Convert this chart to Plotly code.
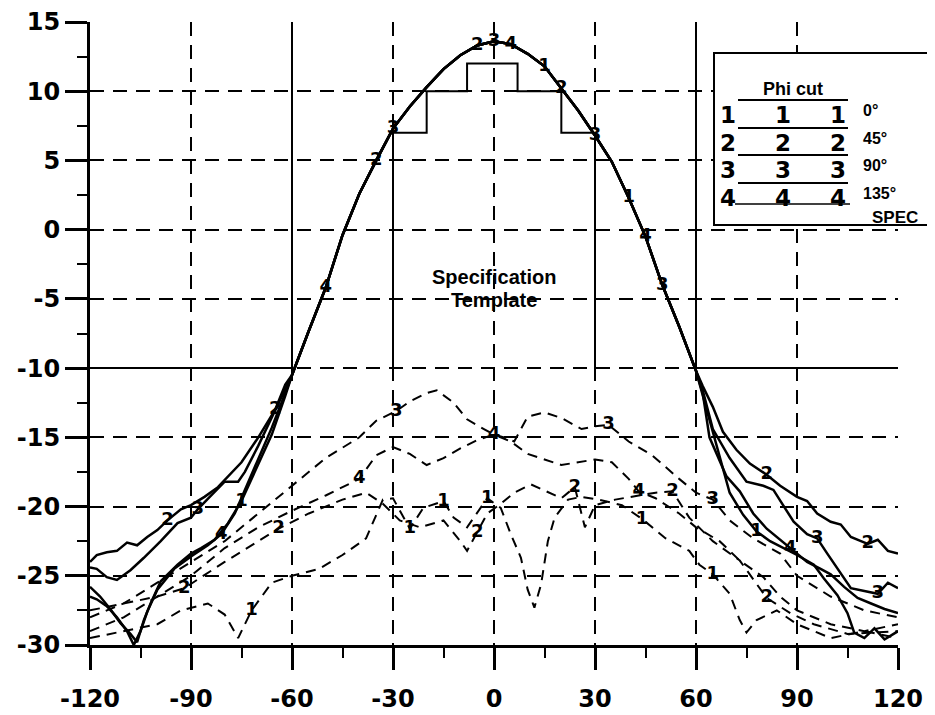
import plotly.graph_objects as go

# ---------------- data ----------------
# common main lobe of the four co-polar cuts (deg, dB)
MAIN_ANG = [-60, -55, -50, -45, -40, -35, -30, -25, -20, -15, -10, -5, 0,
            5, 10, 15, 20, 25, 30, 35, 40, 45, 50, 55, 60]
MAIN_DB = [-10.5, -7.3, -4.2, -0.4, 2.6, 5.0, 7.3, 8.9, 10.3, 11.6, 12.6, 13.3, 13.6,
           13.4, 12.7, 11.8, 10.2, 8.6, 6.8, 4.9, 2.3, -0.5, -4.0, -7.0, -10.2]

# co-polar tails, phi = 0 deg (curve 1)
C1_L_ANG = [-120, -117, -114, -111, -108, -106, -104, -102, -99, -94, -90, -87, -83, -79, -75, -70, -66, -62]
C1_L_DB = [-25.8, -26.5, -27.4, -28.4, -29.2, -29.8, -28.2, -27.0, -25.4, -24.2, -23.4, -23.0, -22.4, -21.2, -19.6, -17.0, -14.8, -12.0]
C1_R_ANG = [62, 66, 70, 74, 78, 82, 86, 90, 95, 98, 102, 105, 107, 110, 113, 116, 120]
C1_R_DB = [-12.0, -15.5, -19.0, -20.6, -21.8, -22.5, -23.0, -23.5, -24.2, -25.2, -26.4, -27.7, -29.1, -29.5, -28.8, -29.6, -29.0]

# phi = 45 deg (curve 2)
C2_L_ANG = [-120, -118, -115, -112, -109, -106, -103, -100, -97, -93, -90, -86, -82, -78, -75, -70, -65, -62]
C2_L_DB = [-24.0, -23.5, -23.3, -23.2, -22.6, -22.8, -22.2, -21.7, -21.0, -20.2, -19.9, -19.3, -18.6, -17.6, -16.8, -15.0, -13.0, -11.2]
C2_R_ANG = [62, 65, 68, 72, 76, 81, 85, 90, 93, 96, 100, 103, 106, 109, 111, 114, 117, 120]
C2_R_DB = [-11.3, -12.8, -14.6, -15.9, -16.9, -17.7, -18.5, -19.3, -19.6, -20.5, -21.1, -21.3, -22.2, -22.5, -22.7, -22.4, -23.2, -23.4]

# phi = 90 deg (curve 3)
C3_L_ANG = [-120, -118, -115, -112, -108, -104, -99, -94, -90, -88, -84, -80, -76, -74, -70, -66, -62]
C3_L_DB = [-24.4, -24.5, -25.1, -25.3, -24.6, -23.7, -22.5, -21.2, -20.8, -20.2, -19.2, -18.2, -18.2, -17.5, -15.6, -13.6, -11.5]
C3_R_ANG = [62, 65, 70, 75, 80, 83, 86, 89, 93, 96, 99, 103, 106, 110, 114, 117, 120]
C3_R_DB = [-11.6, -14.4, -16.5, -18.2, -18.5, -18.8, -20.0, -21.1, -22.0, -22.3, -23.4, -24.8, -25.9, -26.1, -26.3, -25.5, -25.9]

# phi = 135 deg (curve 4)
C4_L_ANG = [-120, -118, -115, -112, -109, -107, -105, -103, -100, -95, -90, -85, -81, -77, -74, -70, -66, -62]
C4_L_DB = [-26.5, -26.7, -27.2, -28.0, -29.0, -30.0, -29.0, -27.6, -26.0, -24.5, -23.6, -22.8, -22.0, -20.5, -18.8, -16.6, -14.3, -11.8]
C4_R_ANG = [62, 64, 69, 73, 77, 81, 85, 88, 93, 97, 100, 104, 108, 112, 116, 120]
C4_R_DB = [-11.8, -15.0, -17.8, -18.9, -20.5, -21.6, -22.4, -23.0, -24.0, -24.5, -24.9, -25.8, -26.6, -27.0, -27.4, -27.7]

# cross-polar cuts (dashed)
X1_ANG = [-120, -110, -100, -93, -85, -80, -76, -72, -66, -60, -52, -45, -38, -33, -30, -25, -21, -15, -12,
          -8, -2, 2, 5, 8, 10, 12, 14, 16, 18, 22, 26, 31, 38, 44, 51, 58, 61, 65, 70, 73, 75, 78, 84, 90, 100, 110, 120]
X1_DB = [-29.5, -29.0, -28.5, -27.5, -27.0, -27.8, -29.5, -27.5, -25.5, -25.0, -24.5, -23.5, -22.3, -19.5, -19.4, -21.6, -20.1, -19.6, -20.8,
         -21.5, -19.4, -20.1, -22.0, -23.7, -26.0, -27.3, -25.6, -22.5, -20.8, -19.5, -19.3, -19.5, -19.9, -20.9, -22.3, -23.2, -24.2, -24.9, -26.3, -28.2, -29.1, -28.2, -27.5, -28.5, -29.5, -29.0, -29.5]
X2_ANG = [-120, -110, -100, -92, -80, -70, -64, -55, -45, -38, -33, -28, -22, -15, -10, -8, -5, -2, 2, 6, 11, 17, 20, 24,
          27, 30, 36, 43, 48, 53, 58, 65, 73, 81, 88, 95, 105, 120]
X2_DB = [-27.5, -27.0, -26.5, -25.9, -24.0, -22.5, -21.6, -20.5, -19.5, -19.0, -19.8, -21.0, -21.5, -21.0, -22.5, -23.2, -21.9, -20.5, -19.8, -19.0, -18.4, -19.1, -19.4, -18.6,
         -21.5, -19.9, -19.5, -19.2, -19.0, -18.9, -20.8, -22.5, -23.9, -26.6, -27.7, -28.5, -29.2, -29.0]
X3_ANG = [-120, -110, -100, -90, -80, -70, -60, -50, -40, -35, -29, -25, -20, -17, -12, -8, -3, 0, 3, 6, 10, 15, 20, 26, 30,
          34, 40, 47, 55, 60, 65, 70, 77, 85, 90, 100, 110, 120]
X3_DB = [-28.0, -27.0, -25.5, -24.0, -22.5, -20.5, -18.5, -16.5, -15.0, -13.8, -13.1, -12.4, -11.8, -11.6, -12.5, -13.7, -14.4, -14.8, -15.0, -15.3, -13.5, -13.2, -13.6, -14.4, -14.2,
         -14.1, -15.3, -16.3, -18.0, -19.0, -19.5, -21.0, -22.3, -23.4, -25.0, -26.5, -27.5, -28.0]
X4_ANG = [-120, -110, -100, -90, -80, -70, -60, -50, -40, -35, -30, -25, -20, -15, -10, -5, 0, 5, 10, 20, 30, 35,
          40, 43, 48, 55, 60, 67, 73, 80, 85, 90, 100, 110, 120]
X4_DB = [-29.0, -28.0, -26.5, -25.0, -23.0, -21.5, -20.3, -19.2, -18.0, -16.3, -15.7, -16.2, -17.0, -16.5, -15.8, -15.2, -14.8, -15.3, -16.2, -17.0, -16.6, -16.8,
         -18.0, -18.9, -19.4, -20.5, -21.5, -22.5, -23.9, -25.1, -26.5, -27.5, -28.5, -29.0, -28.5]

# angles at which the cut number is printed on each curve
C_MARKS = {
    "1": [15, 40, -75, 78],
    "2": [-5, 20, -35, -65, -97, 81, 111],
    "3": [0, -30, 30, 50, -88, 96, 114],
    "4": [5, -50, 45, -81, 88],
}
X_MARKS = {
    "1": [-72, -25, -15, -2, 44, 65],
    "2": [-92, -64, -5, 24, 53, 81],
    "3": [-29, 34, 65],
    "4": [0, -40, 43],
}

# specification template (upper mask)
SPEC_X = [-120, -60, -60, None, -30, -30, -20, -20, -8, -8, 7, 7, 20, 20, 30, 30, None, 60, 60, 120]
SPEC_Y = [-10, -10, 15, None, -10, 7, 7, 10, 10, 12, 12, 10, 10, 7, 7, -10, None, 15, -10, -10]

X_TICKS = [-120, -90, -60, -30, 0, 30, 60, 90, 120]
X_LABELS = ["-120", "-90", "-60", "-30", "0", "30", "60", "90", "120"]
Y_TICKS = [15, 10, 5, 0, -5, -10, -15, -20, -25, -30]
Y_LABELS = ["15", "10", "5", "0", "-5", "-10", "-15", "-20", "-25", "-30"]
LEGEND_ROWS = [("1", "0°"), ("2", "45°"), ("3", "90°"), ("4", "135°")]

# ---------------- figure ----------------
OFF = 8                      # default page body margin
W, H = 927, 707
ML, MT = 90 - OFF, 22 - OFF  # plot area at screen x 90..898, y 22..645
PW, PH = 808, 623
MR, MB = W - ML - PW, H - MT - PH


def px(xs):
    return (xs - OFF - ML) / PW


def py(ys):
    return (H - MB - (ys - OFF)) / PH


fig = go.Figure()

DIGIT_FONT = dict(family="DejaVu Sans", size=18, color="black", weight="bold")

co_sets = {
    "1": (C1_L_ANG, C1_L_DB, C1_R_ANG, C1_R_DB),
    "2": (C2_L_ANG, C2_L_DB, C2_R_ANG, C2_R_DB),
    "3": (C3_L_ANG, C3_L_DB, C3_R_ANG, C3_R_DB),
    "4": (C4_L_ANG, C4_L_DB, C4_R_ANG, C4_R_DB),
}
for name, (la, ld, ra, rd) in co_sets.items():
    ang = la + MAIN_ANG + ra
    db = ld + MAIN_DB + rd
    txt = [name if a in C_MARKS[name] else "" for a in ang]
    fig.add_trace(go.Scatter(x=ang, y=db, mode="lines+text", text=txt,
                             textposition="middle center", textfont=DIGIT_FONT,
                             line=dict(color="black", width=2.5), showlegend=False))

x_sets = {"1": (X1_ANG, X1_DB), "2": (X2_ANG, X2_DB), "3": (X3_ANG, X3_DB), "4": (X4_ANG, X4_DB)}
for name, (ang, db) in x_sets.items():
    txt = [name if a in X_MARKS[name] else "" for a in ang]
    fig.add_trace(go.Scatter(x=ang, y=db, mode="lines+text", text=txt,
                             textposition="middle center", textfont=DIGIT_FONT,
                             line=dict(color="black", width=2, dash="10px,7px"), showlegend=False))

fig.add_trace(go.Scatter(x=SPEC_X, y=SPEC_Y, mode="lines", connectgaps=False,
                         line=dict(color="black", width=2), showlegend=False))

fig.add_annotation(x=0, y=-3.4, text="Specification", showarrow=False,
                   font=dict(family="Liberation Sans", size=20, color="black", weight="bold"))
fig.add_annotation(x=0, y=-5.1, text="Template", showarrow=False,
                   font=dict(family="Liberation Sans", size=20, color="black", weight="bold"))

# legend box (drawn by hand to mimic numbered-line legend)
shapes = [dict(type="rect", xref="paper", yref="paper", x0=px(714), x1=px(932), y0=py(225), y1=py(53),
               line=dict(color="black", width=2), fillcolor="white", layer="above")]
anns = [dict(xref="paper", yref="paper", x=px(825), y=py(77), text="Phi cut", showarrow=False,
             font=dict(family="Liberation Sans", size=18, color="black", weight="bold"))]
row_y = [100, 128, 155, 183]
for (d, lbl), ry in zip(LEGEND_ROWS, row_y):
    shapes.append(dict(type="line", xref="paper", yref="paper", x0=px(738), x1=px(848), y0=py(ry), y1=py(ry),
                       line=dict(color="black", width=2), layer="above"))
    for xx in (738, 793, 848):
        anns.append(dict(xref="paper", yref="paper", x=px(xx), y=py(ry), text=d, showarrow=False,
                         font=dict(family="DejaVu Sans", size=23, color="black", weight="bold")))
    anns.append(dict(xref="paper", yref="paper", x=px(861), y=py(ry), text=lbl, showarrow=False, xanchor="left",
                     font=dict(family="Liberation Sans", size=16, color="black", weight="bold")))
shapes.append(dict(type="line", xref="paper", yref="paper", x0=px(735), x1=px(850), y0=py(204), y1=py(204),
                   line=dict(color="black", width=1.5), layer="above"))
anns.append(dict(xref="paper", yref="paper", x=px(870), y=py(206), text="SPEC", showarrow=False, xanchor="left",
                 font=dict(family="Liberation Sans", size=17, color="black", weight="bold")))

for a in anns:
    fig.add_annotation(**a)

GRID = dict(showgrid=True, gridcolor="black", gridwidth=2, griddash="14px,9px")
TICKFONT = dict(family="DejaVu Sans", size=24, color="black", weight="bold")

fig.update_layout(
    width=W, height=H, margin=dict(l=ML, r=MR, t=MT, b=MB, autoexpand=False),
    paper_bgcolor="white", plot_bgcolor="white", shapes=shapes, showlegend=False,
    xaxis=dict(range=[-120, 120], tickvals=X_TICKS, ticktext=X_LABELS, ticks="outside", ticklen=22, tickwidth=3,
               tickcolor="black", showline=True, linecolor="black", linewidth=3, zeroline=False,
               tickfont=TICKFONT, ticklabelstandoff=8, automargin=False,
               minor=dict(dtick=15, tick0=0, ticks="outside", ticklen=10, tickwidth=2, tickcolor="black", showgrid=False),
               **GRID),
    yaxis=dict(range=[-30, 15], tickvals=Y_TICKS, ticktext=Y_LABELS, ticks="outside", ticklen=22, tickwidth=3,
               tickcolor="black", showline=True, linecolor="black", linewidth=3, zeroline=False,
               tickfont=TICKFONT, automargin=False,
               minor=dict(dtick=2.5, tick0=0, ticks="outside", ticklen=10, tickwidth=2, tickcolor="black", showgrid=False),
               **GRID),
)

fig.write_html("out.html")
